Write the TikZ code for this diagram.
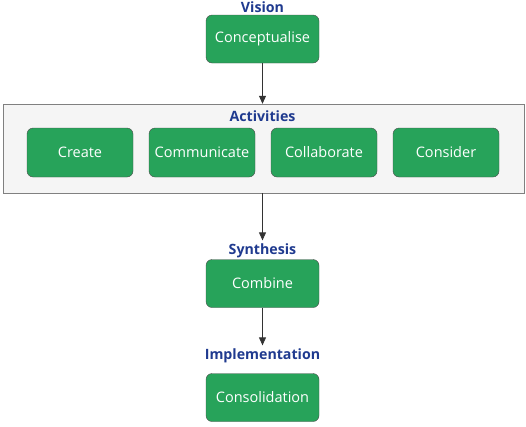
\documentclass[tikz,border=0pt]{standalone}
\usepackage{fontspec}
\setmainfont{Open Sans}
\usetikzlibrary{arrows.meta}
\definecolor{boxgreen}{HTML}{27A35A}
\definecolor{headblue}{HTML}{1F3A8F}
\tikzset{
  stage/.style={draw=black!70, fill=boxgreen, rounded corners=6pt, text=white,
    minimum width=113pt, minimum height=48pt, font=\fontsize{14.5}{16}\selectfont},
  activity/.style={stage, minimum width=106pt, minimum height=49pt},
  head/.style={text=headblue, font=\bfseries\fontsize{14.2}{16}\selectfont},
  flow/.style={draw=black!80, line width=0.8pt, -{Triangle[width=7pt,length=8pt]}}
}
\begin{document}
\begin{tikzpicture}[x=1pt,y=-1pt]
    \useasboundingbox (0,0) rectangle (526,426);
    %% vision
    \node[head] (vision) at (262.5,7) {Vision};
    \node[stage] (concept) at (262.5,39) {Conceptualise};
    %% activities
    \node[draw=black!50, fill=black!4, minimum width=521pt, minimum height=89pt] (panel) at (263.5,148.5) {};
    \node[head] (activities) at (262.5,116) {Activities};
    \foreach \name/\x in {Create/80,Communicate/202,Collaborate/324,Consider/446}
        \node[activity] (\name) at (\x,152.5) {\name};
    %% synthesis
    \node[head] (synthesis) at (262.5,251) {Synthesis};
    \node[stage] (combine) at (262.5,283.5) {Combine};
    %% implementation
    \node[head] (implementation) at (262.5,356) {Implementation};
    \node[stage] (consolidation) at (262.5,397.5) {Consolidation};
    %% arrows
    \draw[flow] (concept) -- (concept |- panel.north);
    \draw[flow] (panel.south -| synthesis) -- (synthesis);
    \draw[flow] (combine) -- (implementation);
\end{tikzpicture}
\end{document}
